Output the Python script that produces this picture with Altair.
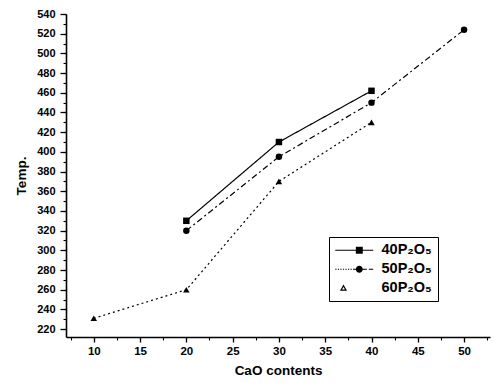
import altair as alt
import pandas as pd

series_names = ["40P₂O₅", "50P₂O₅", "60P₂O₅"]
x_40 = [20, 30, 40]
y_40 = [330, 410, 462]
x_50 = [20, 30, 40, 50]
y_50 = [320, 395, 450, 524]
x_60 = [10, 20, 30, 40]
y_60 = [231, 260, 370, 430]

y_ticks = list(range(220, 541, 20))
y_minor = list(range(210, 541, 10))
x_ticks = [10, 15, 20, 25, 30, 35, 40, 45, 50]
x_minor = [7.5 + 2.5 * i for i in range(19)]

rows = []
for name, xs, ys in [(series_names[0], x_40, y_40), (series_names[1], x_50, y_50), (series_names[2], x_60, y_60)]:
    for i, (a, b) in enumerate(zip(xs, ys)):
        rows.append({"series": name, "cao": a, "temp": b, "order": i})
df = pd.DataFrame(rows)

FONT = "Liberation Sans"
xscale = alt.Scale(domain=[7, 52.8], nice=False, zero=False)
yscale = alt.Scale(domain=[212, 540], nice=False, zero=False)

xaxis = alt.Axis(values=x_ticks, title="CaO contents", grid=False, tickSize=5, labelPadding=3,
                 titlePadding=7, labelFontWeight="bold", titleFontWeight="bold", labelFontSize=11.5,
                 titleFontSize=13.5, labelFont=FONT, titleFont=FONT, domainColor="black", tickColor="black",
                 labelColor="black", titleColor="black", domainWidth=1.6, tickWidth=1.3, format="d")
yaxis = alt.Axis(values=y_ticks, title="Temp.", grid=False, tickSize=6, labelPadding=5,
                 titlePadding=8, labelFontWeight="bold", titleFontWeight="bold", labelFontSize=11,
                 titleFontSize=13.5, labelFont=FONT, titleFont=FONT, domainColor="black", tickColor="black",
                 labelColor="black", titleColor="black", domainWidth=1.6, tickWidth=1.3, format="d")

dash_scale = alt.Scale(domain=series_names, range=[[1, 0], [6, 3, 2, 3], [2, 3]])
shape_scale = alt.Scale(domain=series_names, range=["square", "circle", "triangle-up"])

# legend glyphs (unit = half the square root of symbolSize)
legend_line_scale = alt.Scale(domain=series_names, range=[
    "M-3,0H3",
    "M-3,0H-2.8M-2.6,0H-2.4M-2.2,0H-2M-1.8,0H-1.6M-1.4,0H-1.2M-1,0H-0.8M-0.6,0H-0.4M-0.2,0H0.3M1.3,0H2M2.3,0H3",
    "M-1.7,-0.4L-1.3,0.3H-2.1Z",
])
legend_mark_scale = alt.Scale(domain=series_names, range=[
    "M0.25,-0.55H1.35V0.55H0.25Z",
    "M1.35,0A0.55,0.55,0,1,1,0.25,0A0.55,0.55,0,1,1,1.35,0Z",
    "M0,0",
])

common = dict(title=None, orient="none", legendX=263, legendY=223, padding=6, symbolSize=160,
              labelFont=FONT, labelFontSize=14.5, labelFontWeight="bold", rowPadding=4,
              labelOffset=20, symbolOffset=12, symbolOpacity=1)

legend_lines = alt.Legend(symbolStrokeWidth=1.2, symbolStrokeColor="black", labelColor="transparent",
                          **common)
legend_marks = alt.Legend(strokeColor="black", symbolFillColor="black", symbolStrokeWidth=0,
                          labelColor="black", **common)

lines = alt.Chart(df).mark_line(color="black", strokeWidth=1.2).encode(
    x=alt.X("cao:Q", scale=xscale, axis=xaxis),
    y=alt.Y("temp:Q", scale=yscale, axis=yaxis),
    detail="series:N",
    strokeDash=alt.StrokeDash("series:N", scale=dash_scale, legend=None),
    order="order:Q",
)

points = alt.Chart(df).mark_point(filled=True, color="black", opacity=1, size=42).encode(
    x=alt.X("cao:Q", scale=xscale, axis=None),
    y=alt.Y("temp:Q", scale=yscale, axis=None),
    shape=alt.Shape("series:N", scale=shape_scale, legend=None),
)

legend_layer_lines = alt.Chart(df).transform_filter("datum.order < 0").mark_point(
    filled=False, stroke="black", strokeWidth=1.2, opacity=1
).encode(
    x=alt.X("cao:Q", scale=xscale, axis=None),
    y=alt.Y("temp:Q", scale=yscale, axis=None),
    shape=alt.Shape("series:N", scale=legend_line_scale, legend=legend_lines),
)

legend_layer_marks = alt.Chart(df).transform_filter("datum.order < 0").mark_point(
    filled=True, fill="black", opacity=1
).encode(
    x=alt.X("cao:Q", scale=xscale, axis=None),
    y=alt.Y("temp:Q", scale=yscale, axis=None),
    shape=alt.Shape("series:N", scale=legend_mark_scale, legend=legend_marks),
)

minor_x = alt.Chart(pd.DataFrame({"v": [x_minor[0]]})).mark_point(opacity=0).encode(
    x=alt.X("v:Q", scale=xscale, axis=alt.Axis(values=x_minor, labels=False, title=None, domain=False,
                                              grid=False, tickSize=3, tickColor="black", tickWidth=1.1,
                                              orient="bottom")),
)
minor_y = alt.Chart(pd.DataFrame({"v": [y_minor[1]]})).mark_point(opacity=0).encode(
    y=alt.Y("v:Q", scale=yscale, axis=alt.Axis(values=y_minor, labels=False, title=None, domain=False,
                                              grid=False, tickSize=3, tickColor="black", tickWidth=1.1,
                                              orient="left")),
)

chart = alt.layer(lines, points, legend_layer_lines, legend_layer_marks, minor_x, minor_y).resolve_scale(
    shape="independent"
).resolve_axis(x="independent", y="independent").properties(
    width=424, height=323,
    autosize=alt.AutoSizeParams(type="none"),
    padding={"left": 66, "top": 14, "right": 4, "bottom": 52},
    background="white",
).configure_view(stroke=None)

chart.save("out.html", embed_options={"renderer": "svg", "actions": False})
